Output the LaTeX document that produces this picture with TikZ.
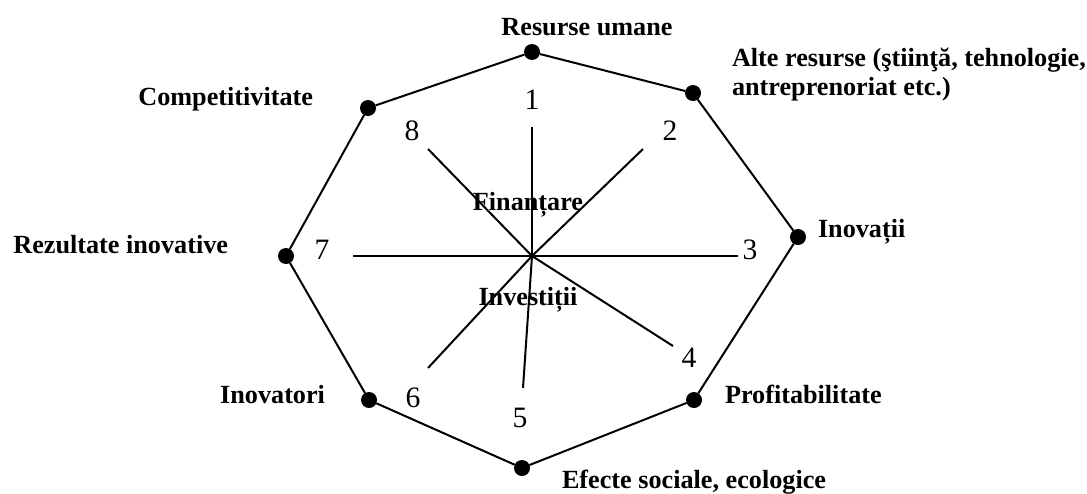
\documentclass[tikz,border=0pt]{standalone}
\usepackage{fontspec}
\setmainfont{Liberation Serif}
\begin{document}
\begin{tikzpicture}[x=0.5pt,y=-0.5pt,inner sep=0pt,outer sep=0pt,line width=1pt,
vdot/.style={circle,fill,minimum size=8pt},
lbl/.style={font=\fontsize{13.1}{14.5}\selectfont\bfseries,align=left},
num/.style={font=\fontsize{14.8}{16}\selectfont,anchor=base}]
\useasboundingbox (0,0) rectangle (1087,493);
% polygon corners
\draw (532,52) node[vdot] (v1) {};
\draw (693,93) node[vdot] (v2) {};
\draw (798,237) node[vdot] (v3) {};
\draw (694,400) node[vdot] (v4) {};
\draw (522,468) node[vdot] (v5) {};
\draw (369,400) node[vdot] (v6) {};
\draw (286,256) node[vdot] (v7) {};
\draw (368,108) node[vdot] (v8) {};
\draw (v1) -- (v2) -- (v3) -- (v4) -- (v5) -- (v6) -- (v7) -- (v8) -- (v1);
% spokes
\coordinate (c) at (532,256);
\draw (c) -- (532,127) coordinate (e1);
\draw (c) -- (643,149) coordinate (e2);
\draw (c) -- (738,256) coordinate (e3);
\draw (c) -- (673,346) coordinate (e4);
\draw (c) -- (523,388) coordinate (e5);
\draw (c) -- (428,368) coordinate (e6);
\draw (c) -- (353,256) coordinate (e7);
\draw (c) -- (428,149) coordinate (e8);
\draw (532,109) node[num] (n1) {1};
\draw (670,140) node[num] (n2) {2};
\draw (750,259) node[num] (n3) {3};
\draw (689,367) node[num] (n4) {4};
\draw (520,427) node[num] (n5) {5};
\draw (413,407) node[num] (n6) {6};
\draw (322,259) node[num] (n7) {7};
\draw (412,140) node[num] (n8) {8};
% labels
\draw (528,210) node[lbl,anchor=base] (fin) {Finanțare};
\draw (528,305) node[lbl,anchor=base] (inv) {Investiții};
\draw (587,35) node[lbl,anchor=base] (l1) {Resurse umane};
\draw (732,95) node[lbl,anchor=base west] (l2) {Alte resurse (ştiinţă, tehnologie,\\antreprenoriat etc.)};
\draw (818,237) node[lbl,anchor=base west] (l3) {Inovații};
\draw (725,403) node[lbl,anchor=base west] (l4) {Profitabilitate};
\draw (562,488) node[lbl,anchor=base west] (l5) {Efecte sociale, ecologice};
\draw (325,403) node[lbl,anchor=base east] (l6) {Inovatori};
\draw (228,253) node[lbl,anchor=base east] (l7) {Rezultate inovative};
\draw (313,105) node[lbl,anchor=base east] (l8) {Competitivitate};
\end{tikzpicture}
\end{document}
